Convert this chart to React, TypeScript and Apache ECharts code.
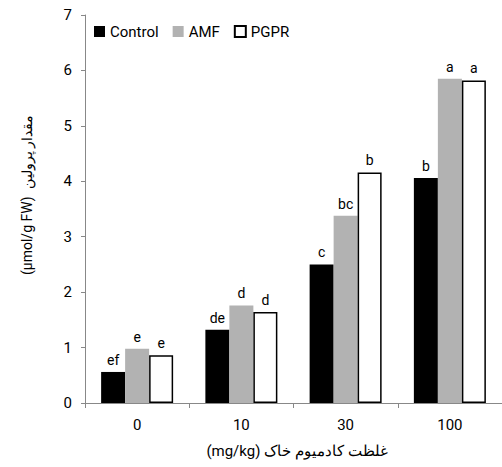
import React, { useEffect, useRef } from "react";
import * as echarts from "echarts";

const categories = ["0", "10", "30", "100"];
const controlValues = [0.56, 1.32, 2.5, 4.06];
const amfValues = [0.98, 1.76, 3.38, 5.85];
const pgprValues = [0.86, 1.64, 4.16, 5.82];
const controlLetters = ["ef", "de", "c", "b"];
const amfLetters = ["e", "d", "bc", "a"];
const pgprLetters = ["e", "d", "b", "a"];
const seriesNames = ["Control", "AMF", "PGPR"];

const FONT = "Roboto, 'Liberation Sans', Arial, sans-serif";

export default function App() {
  const ref = useRef<HTMLDivElement>(null);
  useEffect(() => {
    if (!ref.current) return;
    const chart = echarts.init(ref.current, null, { renderer: "svg" });
    const label = (letters: string[]) => ({
      show: true,
      position: "top" as const,
      distance: 5,
      color: "#000",
      fontFamily: FONT,
      fontSize: 14,
      formatter: (p: any) => letters[p.dataIndex],
    });
    chart.setOption({
      animation: false,
      backgroundColor: "#fff",
      textStyle: { fontFamily: FONT },
      grid: { left: 85, top: 15, width: 420, bottom: 64, containLabel: false },
      legend: {
        left: 89,
        top: 19,
        itemWidth: 11,
        itemHeight: 11,
        itemGap: 14,
        icon: "rect",
        textStyle: { fontFamily: FONT, fontSize: 15, color: "#000" },
        data: seriesNames,
      },
      xAxis: {
        type: "category",
        data: categories,
        axisLine: { lineStyle: { color: "#888", width: 1 } },
        axisTick: { show: true, length: 5, lineStyle: { color: "#888" } },
        axisLabel: { color: "#000", fontSize: 15, margin: 14, fontFamily: FONT },
      },
      yAxis: {
        type: "value",
        min: 0,
        max: 7,
        interval: 1,
        splitLine: { show: false },
        axisLine: { show: true, lineStyle: { color: "#888", width: 1 } },
        axisTick: { show: true, length: 4, lineStyle: { color: "#888" } },
        axisLabel: { color: "#000", fontSize: 15, margin: 13, fontFamily: FONT },
      },
      graphic: [
        {
          type: "text",
          x: 27,
          y: 195,
          rotation: Math.PI / 2,
          style: {
            text: "(µmol/g FW)  مقدار پرولین",
            fontSize: 14,
            fontFamily: FONT,
            fill: "#000",
            align: "center",
            verticalAlign: "middle",
          },
        },
        {
          type: "text",
          x: 297,
          y: 451,
          style: {
            text: "(mg/kg) غلظت کادمیوم خاک",
            fontSize: 15,
            fontFamily: FONT,
            fill: "#000",
            align: "center",
            verticalAlign: "middle",
          },
        },
      ],
      series: [
        {
          name: seriesNames[0],
          type: "bar",
          data: controlValues,
          barWidth: 24,
          barGap: "0%",
          itemStyle: { color: "#000" },
          label: label(controlLetters),
        },
        {
          name: seriesNames[1],
          type: "bar",
          data: amfValues,
          barWidth: 24,
          barGap: "0%",
          itemStyle: { color: "#b2b2b2" },
          label: label(amfLetters),
        },
        {
          name: seriesNames[2],
          type: "bar",
          data: pgprValues,
          barWidth: 24,
          barGap: "0%",
          itemStyle: { color: "#fff", borderColor: "#000", borderWidth: 1.5 },
          label: label(pgprLetters),
        },
      ],
    });
    return () => chart.dispose();
  }, []);
  return <div ref={ref} style={{ width: 502, height: 467, position: "absolute", left: 0, top: 0 }} />;
}
